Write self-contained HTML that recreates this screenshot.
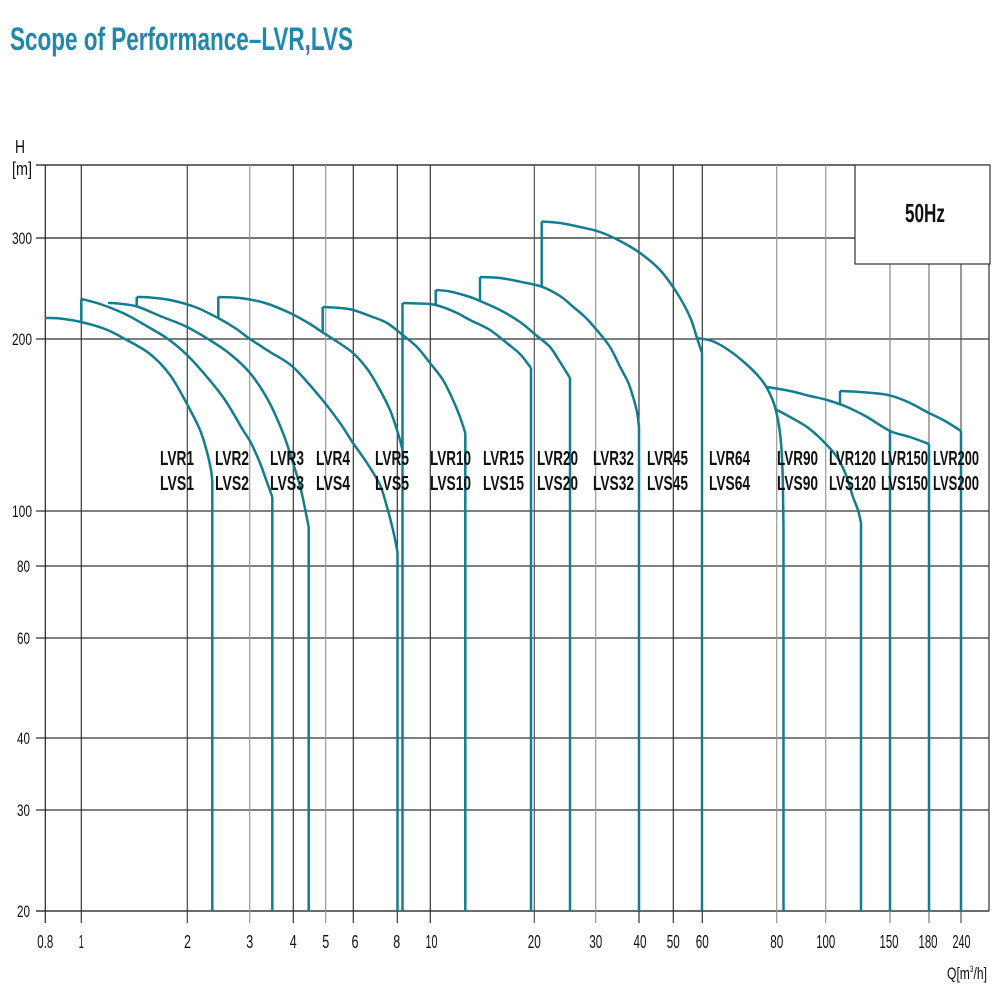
<!DOCTYPE html>
<html><head><meta charset="utf-8"><style>
html,body{margin:0;padding:0;background:#fff;}
svg{display:block;}
text{font-family:"Liberation Sans",Arial,sans-serif;}
</style></head><body>
<svg id="chart" width="1000" height="1000" viewBox="0 0 1000 1000" xmlns="http://www.w3.org/2000/svg">
<rect x="0" y="0" width="1000" height="1000" fill="#fff"/>
<text x="10" y="50" font-size="32" font-weight="bold" fill="#1e88ad" textLength="343" lengthAdjust="spacingAndGlyphs">Scope of Performance–LVR,LVS</text>
<text x="15" y="153" font-size="18" fill="#111" textLength="10" lengthAdjust="spacingAndGlyphs">H</text>
<text x="12" y="175" font-size="18" fill="#111" textLength="20" lengthAdjust="spacingAndGlyphs">[m]</text>

<g stroke-width="1.2" fill="none">
<line x1="36" y1="165" x2="989" y2="165" stroke="#111"/>
<line x1="36" y1="238" x2="989" y2="238" stroke="#222"/>
<line x1="36" y1="339" x2="989" y2="339" stroke="#333"/>
<line x1="36" y1="511" x2="989" y2="511" stroke="#333"/>
<line x1="36" y1="566" x2="989" y2="566" stroke="#333"/>
<line x1="36" y1="638" x2="989" y2="638" stroke="#333"/>
<line x1="36" y1="738" x2="989" y2="738" stroke="#333"/>
<line x1="36" y1="810" x2="989" y2="810" stroke="#333"/>
<line x1="36" y1="911" x2="989" y2="911" stroke="#111"/>
<line x1="45.3" y1="165" x2="45.3" y2="923" stroke="#222"/>
<line x1="81.3" y1="165" x2="81.3" y2="923" stroke="#333"/>
<line x1="187.3" y1="165" x2="187.3" y2="923" stroke="#444"/>
<line x1="249.7" y1="165" x2="249.7" y2="923" stroke="#999"/>
<line x1="293.3" y1="165" x2="293.3" y2="923" stroke="#333"/>
<line x1="325.7" y1="165" x2="325.7" y2="923" stroke="#999"/>
<line x1="353.3" y1="165" x2="353.3" y2="923" stroke="#333"/>
<line x1="397.3" y1="165" x2="397.3" y2="923" stroke="#333"/>
<line x1="430.3" y1="165" x2="430.3" y2="923" stroke="#333"/>
<line x1="534.3" y1="165" x2="534.3" y2="923" stroke="#555"/>
<line x1="595.7" y1="165" x2="595.7" y2="923" stroke="#999"/>
<line x1="639" y1="165" x2="639" y2="923" stroke="#333"/>
<line x1="673.3" y1="165" x2="673.3" y2="923" stroke="#333"/>
<line x1="702.3" y1="165" x2="702.3" y2="923" stroke="#333"/>
<line x1="776.7" y1="165" x2="776.7" y2="923" stroke="#999"/>
<line x1="825.7" y1="165" x2="825.7" y2="923" stroke="#999"/>
<line x1="890" y1="165" x2="890" y2="923" stroke="#888"/>
<line x1="929" y1="165" x2="929" y2="923" stroke="#777"/>
<line x1="961" y1="165" x2="961" y2="923" stroke="#555"/>
<line x1="989" y1="165" x2="989" y2="911" stroke="#333"/>
</g>

<g id="curves" stroke="#127d8f" stroke-width="2.5" fill="none" stroke-linejoin="round" stroke-linecap="butt">
<!-- LVR1 -->
<polyline class="s" points="45,318 60,318.5 81,322 105,329 125,339 150,354 170,375 187,404 200,430 207,452 211,470 212.3,482"/>
<line x1="212.3" y1="482" x2="212.3" y2="911"/>
<!-- LVR2 -->
<line x1="81.3" y1="322" x2="81.3" y2="299"/>
<polyline class="s" points="81.3,299 100,304 125,314 150,328 168,339 187,355 207,377 225,400 243,430 251,443 260,463 268,485 272.3,497"/>
<line x1="272.3" y1="497" x2="272.3" y2="911"/>
<!-- LVR3 -->
<polyline class="s" points="108,303 118,303.5 137,306.5 160,316 185,326 208,339 230,354 250,373 268,400 283,433 293,463 301,490 308.7,527"/>
<line x1="308.7" y1="527" x2="308.7" y2="911"/>
<!-- LVR4 -->
<line x1="136.7" y1="306.5" x2="136.7" y2="297"/>
<polyline class="s" points="136.7,297 150,297.5 170,300 195,307 218,318 235,328 250,339 270,352 293,367 320,397 340,423 353,443 367,463 380,485 387,507 393,530 397.5,552"/>
<line x1="397.5" y1="552" x2="397.5" y2="911"/>
<!-- LVR5 -->
<line x1="218.3" y1="319" x2="218.3" y2="297"/>
<polyline class="s" points="218.3,297 240,298 265,303 290,313 310,324 322,332 333,339 353,353 368,370 380,390 390,410 396,427 400,440 402.5,450"/>
<line x1="402.5" y1="303" x2="402.5" y2="911"/>
<!-- LVR10 -->
<line x1="322.7" y1="332" x2="322.7" y2="307"/>
<polyline class="s" points="322.7,307 340,308 353,310 370,316 387,323 402.7,335 417,347 430,363 443,380 453,400 460,417 465.3,433"/>
<line x1="465.3" y1="433" x2="465.3" y2="911"/>
<!-- LVR15 -->
<polyline class="s" points="402.7,303 420,303.5 435.7,305 455,312 470,320 490,330 506.7,343 520,354 531,368"/>
<line x1="531" y1="368" x2="531" y2="911"/>
<!-- LVR20 -->
<line x1="435.7" y1="305" x2="435.7" y2="290"/>
<polyline class="s" points="435.7,290 450,291.5 470,297 480,301 500,310 520,322 537,336 550,347 560,362 570,378"/>
<line x1="570" y1="378" x2="570" y2="911"/>
<!-- LVR32 -->
<line x1="480" y1="301.7" x2="480" y2="277"/>
<polyline class="s" points="480,277 500,278 520,281.7 541.7,286.7 560,296 573,306.7 585,317 596.7,330 610,347 620,366.7 628,382 633,396.7 637,412 639,427"/>
<line x1="639" y1="427" x2="639" y2="911"/>
<!-- LVR45 -->
<line x1="541.7" y1="286.7" x2="541.7" y2="221.5"/>
<polyline class="s" points="541.7,221.5 560,223 580,227 600,232 620,241 640,253 660,270 677,293 690,317 697,338 701.7,352"/>
<line x1="702" y1="352" x2="702" y2="911"/>
<!-- LVR64 -->
<polyline class="s" points="697,338 712,341 727,349 745,363 760,378 768,390 775,407 780,433 782.5,470 783.5,530"/>
<line x1="783.5" y1="530" x2="783.5" y2="911"/>
<!-- LVR90 -->
<polyline class="s" points="775,409 790,417 807,427 822,440 837,457 846,475 853,497 858,510 860.8,522"/>
<line x1="861" y1="522" x2="861" y2="911"/>
<!-- curve A -->
<polyline class="s" points="767,387 790,391 810,396 827,400 847,407 867,417 890,431 910,437 929,444"/>
<line x1="929" y1="444" x2="929" y2="911"/>
<line x1="890" y1="431" x2="890" y2="911"/>
<!-- curve C -->
<line x1="840" y1="404" x2="840" y2="391"/>
<polyline class="s" points="840,391 860,392 888,395 908,402 927,412 945,421 961,431"/>
<line x1="961" y1="431" x2="961" y2="911"/>
</g>

<rect x="855" y="165" width="135" height="99" fill="#fff" stroke="#333" stroke-width="1.2"/>
<text x="905" y="222" font-size="26" font-weight="bold" fill="#111" textLength="40" lengthAdjust="spacingAndGlyphs">50Hz</text>

<g font-size="17" fill="#111" text-anchor="end">
<text x="32" y="244" textLength="20" lengthAdjust="spacingAndGlyphs">300</text>
<text x="32" y="345" textLength="20" lengthAdjust="spacingAndGlyphs">200</text>
<text x="32" y="517" textLength="20" lengthAdjust="spacingAndGlyphs">100</text>
<text x="30" y="572" textLength="13" lengthAdjust="spacingAndGlyphs">80</text>
<text x="30" y="644" textLength="13" lengthAdjust="spacingAndGlyphs">60</text>
<text x="30" y="744" textLength="13" lengthAdjust="spacingAndGlyphs">40</text>
<text x="30" y="816" textLength="13" lengthAdjust="spacingAndGlyphs">30</text>
<text x="30" y="917" textLength="13" lengthAdjust="spacingAndGlyphs">20</text>
</g>

<g font-size="18" fill="#111" text-anchor="middle">
<text x="45.3" y="948" textLength="16" lengthAdjust="spacingAndGlyphs">0.8</text>
<text x="81.3" y="948" textLength="5" lengthAdjust="spacingAndGlyphs">1</text>
<text x="187.5" y="948" textLength="7" lengthAdjust="spacingAndGlyphs">2</text>
<text x="249.7" y="948" textLength="7" lengthAdjust="spacingAndGlyphs">3</text>
<text x="293.3" y="948" textLength="7" lengthAdjust="spacingAndGlyphs">4</text>
<text x="325.7" y="948" textLength="7" lengthAdjust="spacingAndGlyphs">5</text>
<text x="355" y="948" textLength="7" lengthAdjust="spacingAndGlyphs">6</text>
<text x="396.7" y="948" textLength="7" lengthAdjust="spacingAndGlyphs">8</text>
<text x="431.5" y="948" textLength="12" lengthAdjust="spacingAndGlyphs">10</text>
<text x="534.3" y="948" textLength="13" lengthAdjust="spacingAndGlyphs">20</text>
<text x="595.7" y="948" textLength="13" lengthAdjust="spacingAndGlyphs">30</text>
<text x="640" y="948" textLength="13" lengthAdjust="spacingAndGlyphs">40</text>
<text x="673.3" y="948" textLength="13" lengthAdjust="spacingAndGlyphs">50</text>
<text x="702.3" y="948" textLength="13" lengthAdjust="spacingAndGlyphs">60</text>
<text x="776.7" y="948" textLength="13" lengthAdjust="spacingAndGlyphs">80</text>
<text x="825.7" y="948" textLength="19" lengthAdjust="spacingAndGlyphs">100</text>
<text x="889" y="948" textLength="19" lengthAdjust="spacingAndGlyphs">150</text>
<text x="928" y="948" textLength="19" lengthAdjust="spacingAndGlyphs">180</text>
<text x="961.5" y="948" textLength="18" lengthAdjust="spacingAndGlyphs">240</text>
</g>
<text x="947" y="979" font-size="17" fill="#111" textLength="40" lengthAdjust="spacingAndGlyphs">Q[m<tspan font-size="9" dy="-7">3</tspan><tspan dy="7">/h]</tspan></text>

<g font-size="20" font-weight="bold" fill="#111">
<text x="160" y="465" textLength="34" lengthAdjust="spacingAndGlyphs">LVR1</text>
<text x="160" y="490" textLength="34" lengthAdjust="spacingAndGlyphs">LVS1</text>
<text x="215" y="465" textLength="34" lengthAdjust="spacingAndGlyphs">LVR2</text>
<text x="215" y="490" textLength="34" lengthAdjust="spacingAndGlyphs">LVS2</text>
<text x="270" y="465" textLength="34" lengthAdjust="spacingAndGlyphs">LVR3</text>
<text x="270" y="490" textLength="34" lengthAdjust="spacingAndGlyphs">LVS3</text>
<text x="316" y="465" textLength="34" lengthAdjust="spacingAndGlyphs">LVR4</text>
<text x="316" y="490" textLength="34" lengthAdjust="spacingAndGlyphs">LVS4</text>
<text x="375" y="465" textLength="34" lengthAdjust="spacingAndGlyphs">LVR5</text>
<text x="375" y="490" textLength="34" lengthAdjust="spacingAndGlyphs">LVS5</text>
<text x="430" y="465" textLength="41" lengthAdjust="spacingAndGlyphs">LVR10</text>
<text x="430" y="490" textLength="41" lengthAdjust="spacingAndGlyphs">LVS10</text>
<text x="483" y="465" textLength="41" lengthAdjust="spacingAndGlyphs">LVR15</text>
<text x="483" y="490" textLength="41" lengthAdjust="spacingAndGlyphs">LVS15</text>
<text x="537" y="465" textLength="41" lengthAdjust="spacingAndGlyphs">LVR20</text>
<text x="537" y="490" textLength="41" lengthAdjust="spacingAndGlyphs">LVS20</text>
<text x="593" y="465" textLength="41" lengthAdjust="spacingAndGlyphs">LVR32</text>
<text x="593" y="490" textLength="41" lengthAdjust="spacingAndGlyphs">LVS32</text>
<text x="647" y="465" textLength="41" lengthAdjust="spacingAndGlyphs">LVR45</text>
<text x="647" y="490" textLength="41" lengthAdjust="spacingAndGlyphs">LVS45</text>
<text x="709" y="465" textLength="41" lengthAdjust="spacingAndGlyphs">LVR64</text>
<text x="709" y="490" textLength="41" lengthAdjust="spacingAndGlyphs">LVS64</text>
<text x="777" y="465" textLength="41" lengthAdjust="spacingAndGlyphs">LVR90</text>
<text x="777" y="490" textLength="41" lengthAdjust="spacingAndGlyphs">LVS90</text>
<text x="829" y="465" textLength="47" lengthAdjust="spacingAndGlyphs">LVR120</text>
<text x="829" y="490" textLength="47" lengthAdjust="spacingAndGlyphs">LVS120</text>
<text x="881" y="465" textLength="47" lengthAdjust="spacingAndGlyphs">LVR150</text>
<text x="881" y="490" textLength="47" lengthAdjust="spacingAndGlyphs">LVS150</text>
<text x="933" y="465" textLength="46" lengthAdjust="spacingAndGlyphs">LVR200</text>
<text x="933" y="490" textLength="46" lengthAdjust="spacingAndGlyphs">LVS200</text>
</g>
</svg>
<script>
(function(){
  var NS="http://www.w3.org/2000/svg";
  var polys=document.querySelectorAll("polyline.s");
  for(var k=0;k<polys.length;k++){
    var pl=polys[k];
    var raw=pl.getAttribute("points").trim().split(/\s+/);
    var pts=raw.map(function(s){var a=s.split(",");return [parseFloat(a[0]),parseFloat(a[1])];});
    var d="M"+pts[0][0]+","+pts[0][1];
    for(var i=0;i<pts.length-1;i++){
      var p0=pts[i-1]||pts[i],p1=pts[i],p2=pts[i+1],p3=pts[i+2]||pts[i+1];
      var c1x=p1[0]+(p2[0]-p0[0])/6,c1y=p1[1]+(p2[1]-p0[1])/6;
      var c2x=p2[0]-(p3[0]-p1[0])/6,c2y=p2[1]-(p3[1]-p1[1])/6;
      d+=" C"+c1x.toFixed(2)+","+c1y.toFixed(2)+" "+c2x.toFixed(2)+","+c2y.toFixed(2)+" "+p2[0]+","+p2[1];
    }
    var path=document.createElementNS(NS,"path");
    path.setAttribute("d",d);
    pl.parentNode.replaceChild(path,pl);
  }
})();
</script>
</body></html>
